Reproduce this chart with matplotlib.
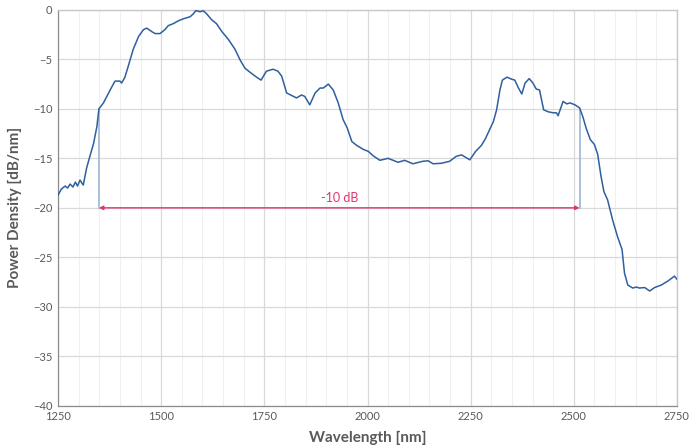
import numpy as np
import matplotlib.pyplot as plt

# Spectrum
wavelength = [1250, 1258, 1267, 1273, 1279, 1286, 1292, 1297, 1303, 1311, 1319, 1327, 1336, 1344, 1349,
              1360, 1368, 1380, 1388, 1400, 1404, 1412, 1420, 1432, 1445, 1457, 1465, 1477, 1485, 1497,
              1509, 1517, 1529, 1542, 1554, 1570, 1578, 1584, 1594, 1602, 1610, 1622, 1634, 1647, 1663,
              1679, 1691, 1703, 1715, 1731, 1742, 1755, 1771, 1783, 1792, 1804, 1816, 1828, 1840, 1848,
              1860, 1873, 1885, 1893, 1905, 1917, 1929, 1941, 1951, 1962, 1974, 1990, 2002, 2014, 2030,
              2050, 2062, 2074, 2090, 2110, 2134, 2147, 2159, 2179, 2199, 2215, 2228, 2248, 2262, 2276,
              2286, 2296, 2305, 2313, 2321, 2327, 2338, 2349, 2357, 2366, 2374, 2382, 2392, 2401, 2409,
              2417, 2427, 2438, 2450, 2458, 2462, 2474, 2483, 2491, 2503, 2514, 2522, 2530, 2540, 2550,
              2558, 2566, 2573, 2582, 2594, 2606, 2617, 2623, 2631, 2643, 2652, 2659, 2672, 2684, 2696,
              2712, 2728, 2744, 2750]
power = [-18.7, -18.1, -17.8, -18.0, -17.6, -17.9, -17.4, -17.8, -17.2, -17.7, -16.0, -14.8, -13.5, -11.8, -10.0,
         -9.4, -8.75, -7.8, -7.2, -7.2, -7.4, -6.8, -5.7, -4.0, -2.7, -2.0, -1.85, -2.2, -2.4, -2.4,
         -2.0, -1.6, -1.4, -1.1, -0.9, -0.7, -0.4, -0.07, -0.2, -0.1, -0.4, -1.0, -1.4, -2.2, -3.0,
         -4.0, -5.05, -5.9, -6.3, -6.8, -7.1, -6.2, -6.0, -6.2, -6.7, -8.4, -8.65, -8.9, -8.6, -8.75,
         -9.6, -8.4, -7.9, -7.9, -7.5, -8.1, -9.4, -11.1, -11.95, -13.3, -13.7, -14.1, -14.3, -14.75, -15.2,
         -15.0, -15.2, -15.4, -15.2, -15.55, -15.3, -15.25, -15.55, -15.5, -15.3, -14.8, -14.65, -15.15, -14.3, -13.7,
         -13.0, -12.1, -11.3, -10.1, -8.1, -7.1, -6.8, -7.0, -7.1, -7.9, -8.5, -7.4, -6.95, -7.4, -8.0,
         -8.1, -10.1, -10.3, -10.4, -10.4, -10.7, -9.25, -9.5, -9.4, -9.6, -9.9, -10.8, -11.95, -13.1, -13.6,
         -14.6, -16.8, -18.35, -19.2, -21.2, -22.9, -24.2, -26.6, -27.8, -28.1, -28.0, -28.1, -28.05, -28.4, -28.05,
         -27.8, -27.4, -26.9, -27.2]

edge_wavelengths = [1349, 2514]
edge_level = -10
ref_level = -20
span_label = '-10 dB'

plt.rcParams['font.family'] = ['Lato', 'DejaVu Sans']

fig = plt.figure(figsize=(7, 4.46), dpi=100)
ax = fig.add_axes([0.083, 0.09, 0.884, 0.888])

ax.plot(wavelength, power, color='#2f5f9e', linewidth=1.1, zorder=3)

# -10 dB markers
for xv in edge_wavelengths:
    ax.plot([xv, xv], [edge_level, ref_level], color='#a3bbdb', linewidth=1.3, zorder=2)
ax.annotate('', xy=(edge_wavelengths[0], ref_level), xytext=(edge_wavelengths[1], ref_level),
            arrowprops=dict(arrowstyle='<|-|>', color='#e0356a', lw=1.0,
                            mutation_scale=6, shrinkA=0, shrinkB=0), zorder=4)
ax.text(sum(edge_wavelengths) / 2, ref_level + 0.4, span_label, color='#e0356a',
        ha='center', va='bottom', fontsize=9)

ax.set_xlim(1250, 2750)
ax.set_ylim(-40, 0)
ax.set_xticks(np.arange(1250, 2751, 250))
ax.set_xticks(np.arange(1250, 2751, 50), minor=True)
ax.set_yticks(np.arange(-40, 1, 5))
ax.grid(which='major', color='#d9d9d9', linewidth=0.9)
ax.grid(which='minor', axis='x', color='#f0f0f0', linewidth=0.8)
ax.set_axisbelow(True)

ax.tick_params(which='both', length=0, labelsize=8, colors='#595959', pad=4)
for s in ['top', 'right']:
    ax.spines[s].set_color('#c8c8c8')
    ax.spines[s].set_linewidth(1.0)
for s in ['left', 'bottom']:
    ax.spines[s].set_color('#8c8c8c')
    ax.spines[s].set_linewidth(0.9)

ax.set_xlabel('Wavelength [nm]', fontsize=11, fontweight='bold', color='#595959', labelpad=6)
ax.set_ylabel('Power Density [dB/nm]', fontsize=11, fontweight='bold', color='#595959', labelpad=8)

fig.savefig('out.png', dpi=100)
